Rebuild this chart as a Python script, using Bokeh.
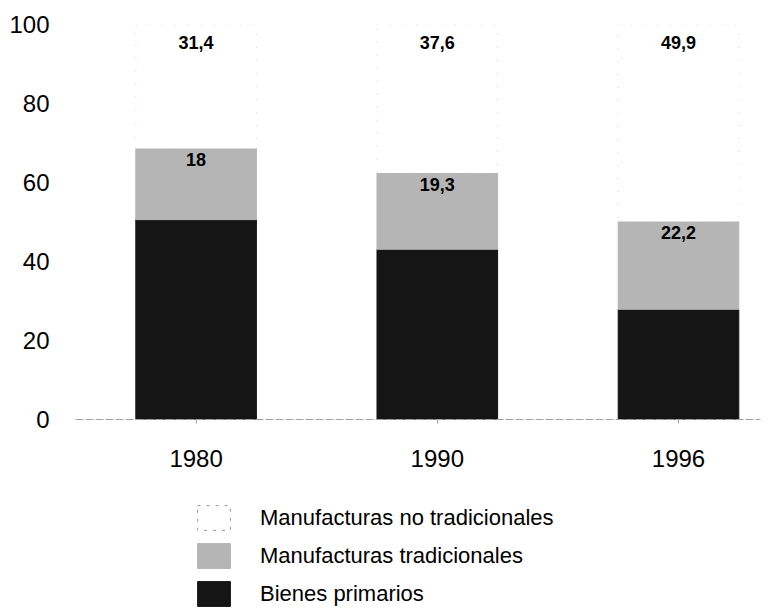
from bokeh.plotting import figure
from bokeh.models import ColumnDataSource, Legend, LegendItem, FixedTicker
from bokeh.layouts import column
from bokeh.core.properties import value
from bokeh.embed import file_html
from bokeh.resources import INLINE

years = ["1980", "1990", "1996"]
primarios = [50.6, 43.1, 27.9]
tradicionales = [18.0, 19.3, 22.2]
no_tradicionales = [31.4, 37.6, 49.9]
y_ticks = [0, 20, 40, 60, 80, 100]
series_names = ["Bienes primarios", "Manufacturas tradicionales", "Manufacturas no tradicionales"]

def fmt(v):
    s = ("%.1f" % v).replace(".", ",")
    return s[:-2] if s.endswith(",0") else s

xs = list(range(len(years)))
top1 = primarios
top2 = [a + b for a, b in zip(primarios, tradicionales)]
top3 = [a + b for a, b in zip(top2, no_tradicionales)]

src = ColumnDataSource(dict(
    x=xs, b0=[0] * len(xs), t1=top1, t2=top2, t3=top3,
    lab2=[fmt(v) for v in tradicionales],
    lab3=[fmt(v) for v in no_tradicionales],
))

FONT = "Liberation Sans"
STYLES = [
    dict(fill_color="#151515", line_color="#151515"),
    dict(fill_color="#b5b5b5", line_color="#b5b5b5"),
    dict(fill_color="white", line_color="#d0d0d0", line_dash="1 12"),
]
LEGEND_STYLES = [
    STYLES[0],
    STYLES[1],
    dict(fill_color="white", line_color="#999999", line_dash="3 6"),
]
SEGS = [("b0", "t1"), ("t1", "t2"), ("t2", "t3")]

p = figure(width=763, height=485, x_range=(-0.5, 2.34), y_range=(0, 100),
           output_backend="svg", toolbar_location=None,
           min_border_left=75, min_border_right=3, min_border_top=24, min_border_bottom=66)
p.outline_line_color = None
p.xgrid.visible = False
p.ygrid.visible = False

for (b, t), st in zip(SEGS, STYLES):
    p.vbar(x="x", bottom=b, top=t, width=0.5, source=src, **st)

p.text(x="x", y="t2", text="lab2", source=src, text_align="center",
       text_baseline="middle", y_offset=11, text_font=value(FONT),
       text_font_size="18px", text_font_style="bold", text_color="black")
p.text(x="x", y="t3", text="lab3", source=src, text_align="center",
       text_baseline="middle", y_offset=18, text_font=value(FONT),
       text_font_size="18px", text_font_style="bold", text_color="black")

p.xaxis.ticker = FixedTicker(ticks=xs)
p.xaxis.major_label_overrides = {i: y for i, y in enumerate(years)}
p.xaxis.axis_line_color = "#a0a0a0"
p.xaxis.axis_line_dash = "8 2"
p.xaxis.major_tick_line_color = "#a0a0a0"
p.xaxis.major_tick_in = 0
p.xaxis.major_tick_out = 4
p.xaxis.minor_tick_line_color = None
p.xaxis.major_label_standoff = 26
p.xaxis.major_label_text_font = FONT
p.xaxis.major_label_text_font_size = "24px"
p.xaxis.major_label_text_color = "black"

p.yaxis.ticker = FixedTicker(ticks=y_ticks)
p.yaxis.axis_line_color = None
p.yaxis.major_tick_line_color = None
p.yaxis.minor_tick_line_color = None
p.yaxis.major_label_standoff = 20
p.yaxis.major_label_text_font = FONT
p.yaxis.major_label_text_font_size = "24px"
p.yaxis.major_label_text_color = "black"

# Legend figure below the chart: same bars, kept below the visible y range,
# so only their legend entries show
lf = figure(width=763, height=124, x_range=(-0.5, 2.34), y_range=(500, 600),
            output_backend="svg", toolbar_location=None,
            x_axis_location=None, y_axis_location=None,
            min_border_left=75, min_border_right=3, min_border_top=0, min_border_bottom=0)
lf.outline_line_color = None
lf.grid.visible = False
lr = [lf.vbar(x="x", bottom=b, top=t, width=0.5, source=src, **st)
      for (b, t), st in zip(SEGS, LEGEND_STYLES)]

legend = Legend(items=[LegendItem(label=series_names[i], renderers=[lr[i]]) for i in (2, 1, 0)],
                location=(118, 0), orientation="vertical")
legend.glyph_width = 41
legend.glyph_height = 31
legend.spacing = 7
legend.label_standoff = 26
legend.padding = 0
legend.margin = 0
legend.border_line_color = None
legend.background_fill_alpha = 0
legend.label_text_font = FONT
legend.label_text_font_size = "22px"
legend.label_text_color = "black"
lf.add_layout(legend, "center")

layout = column(p, lf, spacing=0)
open("out.html", "w").write(file_html(layout, INLINE))
